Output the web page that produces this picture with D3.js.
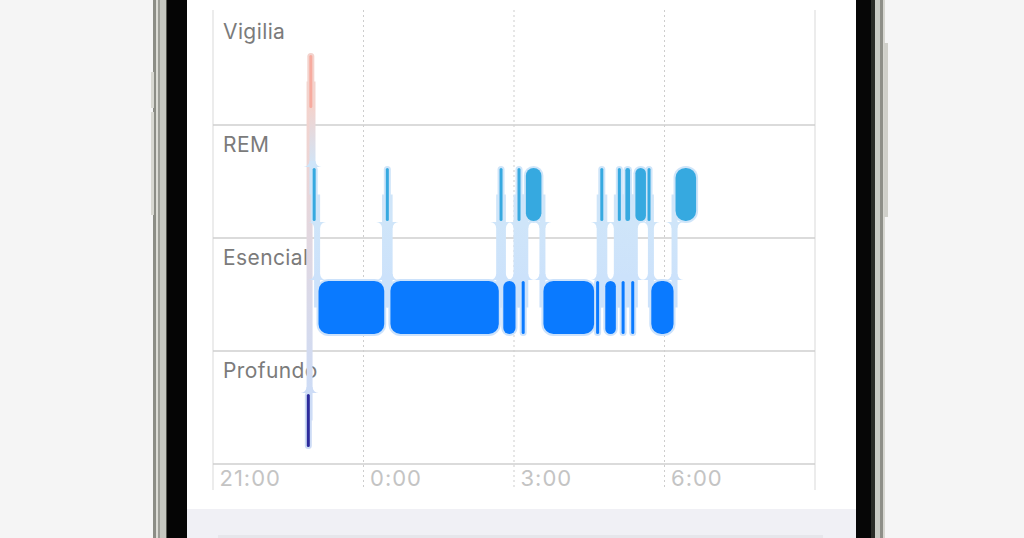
<!DOCTYPE html>
<html>
<head>
<meta charset="utf-8">
<script src="https://cdn.jsdelivr.net/npm/d3@7"></script>
<style>
  html, body { margin: 0; padding: 0; background: #f5f5f5; overflow: hidden; }
  svg { display: block; }
  text { font-family: Inter, "Noto Sans", sans-serif; }
</style>
</head>
<body>
<svg id="chart" width="1024" height="538"></svg>
<script>
// sleep stages, top to bottom
var stages = ["Vigilia", "REM", "Esencial", "Profundo"];
var stageColors = ["#f7ab9f", "#36a9e0", "#0a7aff", "#2d2b9b"];
var stageLight = ["#f3d3cd", "#cfe5f9", "#cce2fb", "#cddcf6"];

// sleep segments
var segStart = ["22:52", "22:56", "22:58", "23:05", "0:26", "0:31", "2:43", "2:46", "3:03", "3:09", "3:13", "3:34",
                "4:38", "4:42", "4:48", "5:03", "5:09", "5:12", "5:20", "5:24", "5:40", "5:43", "6:12"];
var segEnd   = ["22:56", "22:58", "23:04", "0:26", "0:31", "2:43", "2:46", "3:03", "3:09", "3:13", "3:34", "4:37",
                "4:42", "4:48", "5:03", "5:09", "5:12", "5:20", "5:24", "5:39", "5:43", "6:12", "6:39"];
var segStage = ["Profundo", "Vigilia", "REM", "Esencial", "REM", "Esencial", "REM", "Esencial", "REM", "Esencial", "REM", "Esencial",
                "Esencial", "REM", "Esencial", "REM", "Esencial", "REM", "Esencial", "REM", "REM", "Esencial", "REM"];

var tickLabels = ["21:00", "0:00", "3:00", "6:00"];
var domainStart = "21:00", domainEnd = "9:00";

function parseT(s) {
  var p = s.split(":").map(Number);
  var day = p[0] >= 12 ? 1 : 2;
  return new Date(2024, 0, day, p[0], p[1]);
}

var svg = d3.select("#chart");

// ---- phone frame ----
svg.append("rect").attr("x", 0).attr("y", 0).attr("width", 1024).attr("height", 538).attr("fill", "#f5f5f5");
// left rim
svg.append("rect").attr("x", 153).attr("y", 0).attr("width", 3).attr("height", 538).attr("fill", "#8c8d86");
svg.append("rect").attr("x", 156).attr("y", 0).attr("width", 2).attr("height", 538).attr("fill", "#dcdcd6");
svg.append("rect").attr("x", 158).attr("y", 0).attr("width", 2).attr("height", 538).attr("fill", "#9c9d96");
svg.append("rect").attr("x", 160).attr("y", 0).attr("width", 6).attr("height", 538).attr("fill", "#c6c7c0");
svg.append("rect").attr("x", 166).attr("y", 0).attr("width", 1).attr("height", 538).attr("fill", "#55564f");
svg.append("rect").attr("x", 151).attr("y", 72).attr("width", 3).attr("height", 36).attr("fill", "#d8d8d2");
svg.append("rect").attr("x", 151).attr("y", 112).attr("width", 3).attr("height", 103).attr("fill", "#d8d8d2");
// left bezel
svg.append("rect").attr("x", 167).attr("y", 0).attr("width", 20).attr("height", 538).attr("fill", "#050505");
// right bezel
svg.append("rect").attr("x", 856).attr("y", 0).attr("width", 19).attr("height", 538).attr("fill", "#060606");
svg.append("rect").attr("x", 871).attr("y", 0).attr("width", 4).attr("height", 538).attr("fill", "#2a2b26");
// right rim
svg.append("rect").attr("x", 875).attr("y", 0).attr("width", 5).attr("height", 538).attr("fill", "#c9cac3");
svg.append("rect").attr("x", 880).attr("y", 0).attr("width", 3).attr("height", 538).attr("fill", "#8e8f88");
svg.append("rect").attr("x", 883).attr("y", 0).attr("width", 2).attr("height", 538).attr("fill", "#d6d6d0");
svg.append("rect").attr("x", 884).attr("y", 43).attr("width", 4).attr("height", 174).attr("fill", "#cfcfc9");
// screen
svg.append("rect").attr("x", 187).attr("y", 0).attr("width", 669).attr("height", 538).attr("fill", "#ffffff");
svg.append("rect").attr("x", 187).attr("y", 509).attr("width", 669).attr("height", 29).attr("fill", "#f0f0f5");
svg.append("rect").attr("x", 218).attr("y", 535).attr("width", 605).attr("height", 3).attr("fill", "#e6e6eb");

// ---- scales ----
var x = d3.scaleTime().domain([parseT(domainStart), parseT(domainEnd)]).range([213, 815]);
var y = d3.scaleBand().domain(stages).range([12, 464]);
var bw = y.bandwidth();
var barOff = bw * 0.38, barH = bw * 0.47;

var colorOf = d3.scaleOrdinal().domain(stages).range(stageColors);
var lightOf = d3.scaleOrdinal().domain(stages).range(stageLight);

// ---- grid ----
var grid = svg.append("g");
var gridTimes = x.ticks(d3.timeHour.every(3));
grid.selectAll(".vline").data(gridTimes).enter().append("line")
  .attr("x1", d => x(d)).attr("x2", d => x(d))
  .attr("y1", 10).attr("y2", 490)
  .attr("stroke", (d, i) => (i === 0 || i === gridTimes.length - 1) ? "#e2e2e2" : "#cdcdcd")
  .attr("stroke-width", (d, i) => (i === 0 || i === gridTimes.length - 1) ? 1.3 : 1)
  .attr("stroke-dasharray", (d, i) => (i === 0 || i === gridTimes.length - 1) ? null : "2,3");

grid.selectAll(".hline").data(stages).enter().append("line")
  .attr("x1", x.range()[0]).attr("x2", x.range()[1])
  .attr("y1", d => y(d) + bw).attr("y2", d => y(d) + bw)
  .attr("stroke", "#cfcfcf").attr("stroke-width", 1.5);

// stage labels
svg.selectAll(".stageLabel").data(stages).enter().append("text")
  .attr("x", x.range()[0] + 10)
  .attr("y", d => y(d) + 27)
  .attr("font-size", 21)
  .attr("letter-spacing", 0.4)
  .attr("fill", "#7b7b7b")
  .text(d => d);

// time axis labels
var axis = svg.append("g").attr("transform", "translate(0," + (y.range()[1]) + ")")
  .call(d3.axisBottom(x).tickValues(tickLabels.map(parseT)).tickFormat(d3.timeFormat("%-H:%M")).tickSize(0));
axis.select(".domain").remove();
axis.selectAll("text")
  .attr("x", 6).attr("y", 22).attr("dy", 0)
  .attr("text-anchor", "start")
  .attr("font-size", 22)
  .attr("letter-spacing", 1)
  .attr("font-family", "Inter, 'Noto Sans', sans-serif")
  .attr("fill", "#c4c4c4");

// ---- segments ----
var segs = segStart.map(function(s, i) {
  var a = x(parseT(s)) + 1, b = x(parseT(segEnd[i])) - 1;
  if (b - a < 3) { var m = (a + b) / 2; a = m - 1.5; b = m + 1.5; }
  return { x0: a, x1: b, stage: segStage[i], top: y(segStage[i]) + barOff };
});

var defs = svg.append("defs");
var conn = svg.append("g");
segs.forEach(function(s, i) {
  if (i === segs.length - 1) return;
  var n = segs[i + 1];
  if (n.stage === s.stage) return;
  var bx = (s.x1 + n.x0) / 2, w = 6, r = 6;
  var up = s.top < n.top ? s : n, dn = s.top < n.top ? n : s;
  var yA = up.top + barH / 2, yB = dn.top + barH / 2;
  var gid = "g" + i;
  var gr = defs.append("linearGradient").attr("id", gid)
    .attr("gradientUnits", "userSpaceOnUse")
    .attr("x1", 0).attr("x2", 0).attr("y1", up.top + barH).attr("y2", dn.top);
  gr.append("stop").attr("offset", 0).attr("stop-color", lightOf(up.stage));
  gr.append("stop").attr("offset", 1).attr("stop-color", lightOf(dn.stage));
  conn.append("rect").attr("x", bx - w / 2).attr("y", yA).attr("width", w).attr("height", yB - yA)
    .attr("fill", "url(#" + gid + ")");
  if (up.stage !== "Vigilia") {
    var yb = up.top + barH + 1;
    conn.append("path").attr("fill", lightOf(up.stage))
      .attr("d", "M" + (bx - w / 2 - r) + "," + yb + "L" + (bx + w / 2 + r) + "," + yb +
        "A" + r + "," + r + " 0 0 0 " + (bx + w / 2) + "," + (yb + r) +
        "L" + (bx - w / 2) + "," + (yb + r) +
        "A" + r + "," + r + " 0 0 0 " + (bx - w / 2 - r) + "," + yb + "Z");
  }
  var yt = dn.top - 1;
  conn.append("path").attr("fill", lightOf(dn.stage))
    .attr("d", "M" + (bx - w / 2 - r) + "," + yt + "L" + (bx + w / 2 + r) + "," + yt +
      "A" + r + "," + r + " 0 0 1 " + (bx + w / 2) + "," + (yt - r) +
      "L" + (bx - w / 2) + "," + (yt - r) +
      "A" + r + "," + r + " 0 0 1 " + (bx - w / 2 - r) + "," + yt + "Z");
});

// halos
svg.append("g").selectAll("rect").data(segs).enter().append("rect")
  .attr("x", d => d.x0 - 2).attr("y", d => d.top - 2)
  .attr("width", d => d.x1 - d.x0 + 4).attr("height", barH + 4)
  .attr("rx", d => Math.min(10, (d.x1 - d.x0) / 2) + 2)
  .attr("fill", d => lightOf(d.stage));

// bars
svg.append("g").selectAll("rect").data(segs).enter().append("rect")
  .attr("x", d => d.x0).attr("y", d => d.top)
  .attr("width", d => d.x1 - d.x0).attr("height", barH)
  .attr("rx", d => Math.min(10, (d.x1 - d.x0) / 2))
  .attr("fill", d => colorOf(d.stage));
</script>
</body>
</html>
